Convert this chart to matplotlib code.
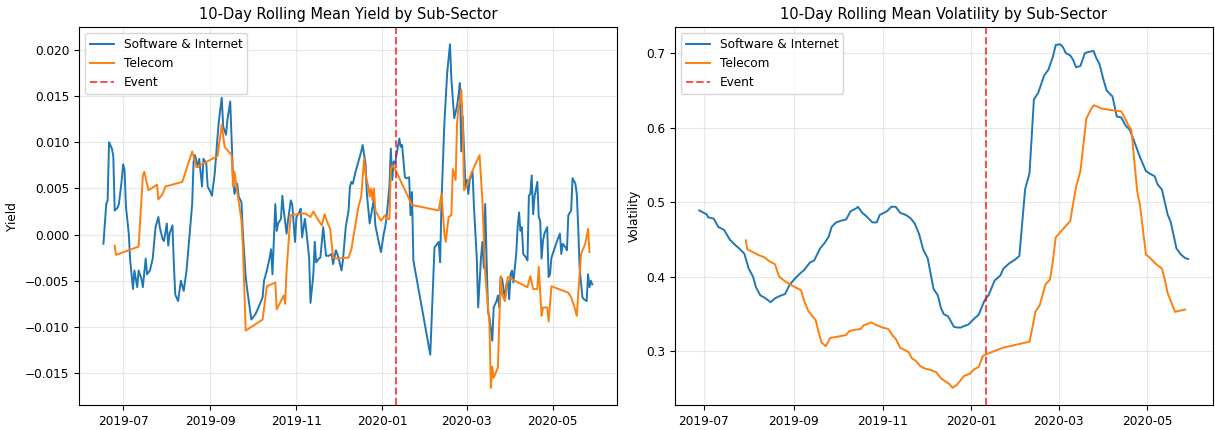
import numpy as np
import pandas as pd
import matplotlib
matplotlib.use("Agg")
import matplotlib.pyplot as plt

# ---- data (x = days since 2019-07-01) ----
base = pd.Timestamp("2019-07-01")
event_day = 194  # 2020-01-11

sw_yield_days = [-14, -12, -11, -10, -8, -7, -6, -4, -3, -1, 0, 1, 2, 4, 5, 7, 8, 10, 11, 13,
                 14, 16, 17, 19, 21, 23, 25, 26, 28, 29, 31, 32, 33, 35, 36, 37, 39, 40, 41, 43,
                 45, 47, 49, 50, 51, 53, 54, 56, 57, 59, 60, 62, 63, 65, 67, 68, 70, 71, 73, 74,
                 76, 78, 79, 81, 82, 84, 85, 87, 88, 91, 94, 96, 99, 100, 102, 104, 105, 106, 108, 109,
                 110, 112, 113, 114, 116, 117, 119, 120, 122, 123, 125, 126, 127, 129, 130, 132, 133, 135, 136, 137,
                 139, 140, 142, 143, 144, 146, 148, 149, 151, 152, 153, 155, 156, 158, 160, 161, 162, 163, 165, 167,
                 169, 170, 172, 173, 175, 177, 178, 179, 181, 183, 185, 186, 187, 189, 190, 191, 192, 193, 195, 196,
                 197, 198, 200, 201, 203, 204, 205, 206, 218, 221, 223, 224, 225, 226, 228, 230, 232, 233, 235, 237,
                 238, 239, 240, 241, 243, 244, 245, 246, 248, 249, 251, 252, 254, 255, 256, 257, 258, 259, 260, 262,
                 263, 265, 266, 267, 268, 269, 271, 272, 273, 274, 275, 276, 277, 279, 280, 281, 282, 283, 284, 286,
                 287, 288, 289, 290, 291, 292, 294, 295, 296, 297, 298, 299, 301, 302, 303, 304, 306, 308, 310, 311,
                 312, 314, 315, 316, 318, 319, 321, 322, 323, 324, 326, 327, 329, 330, 331, 332, 333]
sw_yield = [-0.0010, 0.0033, 0.0037, 0.0100, 0.0093, 0.0085, 0.0026, 0.0029, 0.0033, 0.0059,
            0.0076, 0.0070, 0.0030, 0.0001, -0.0028, -0.0059, -0.0039, -0.0057, -0.0039, -0.0048,
            -0.0057, -0.0026, -0.0043, -0.0039, -0.0026, 0.0008, 0.0019, 0.0008, -0.0005, -0.0007,
            0.0012, -0.0012, 0.0001, 0.0010, -0.0032, -0.0065, -0.0072, -0.0061, -0.0050, -0.0061,
            -0.0039, -0.0003, 0.0033, 0.0079, 0.0086, 0.0073, 0.0082, 0.0052, 0.0082, 0.0077,
            0.0052, 0.0046, 0.0042, 0.0066, 0.0106, 0.0124, 0.0148, 0.0117, 0.0108, 0.0124,
            0.0144, 0.0062, 0.0044, 0.0055, 0.0041, 0.0035, 0.0001, -0.0046, -0.0059, -0.0092,
            -0.0086, -0.0079, -0.0068, -0.0050, -0.0039, -0.0025, -0.0016, -0.0043, 0.0033, 0.0004,
            0.0012, 0.0017, 0.0042, 0.0026, 0.0001, 0.0015, 0.0037, 0.0033, -0.0008, 0.0019,
            0.0024, 0.0028, -0.0003, 0.0017, 0.0004, -0.0025, -0.0074, -0.0043, -0.0008, -0.0030,
            -0.0026, -0.0025, 0.0008, -0.0007, -0.0023, -0.0023, -0.0021, -0.0032, -0.0017, -0.0021,
            -0.0026, -0.0039, -0.0028, 0.0008, 0.0026, 0.0052, 0.0057, 0.0055, 0.0068, 0.0079,
            0.0090, 0.0097, 0.0077, 0.0044, 0.0012, 0.0030, 0.0037, 0.0010, -0.0005, -0.0019,
            0.0001, 0.0008, 0.0019, 0.0052, 0.0093, 0.0059, 0.0079, 0.0077, 0.0095, 0.0104,
            0.0095, 0.0097, 0.0062, 0.0061, 0.0062, 0.0021, 0.0046, -0.0028, -0.0130, -0.0014,
            -0.0010, -0.0008, -0.0030, 0.0037, 0.0120, 0.0175, 0.0206, 0.0168, 0.0126, 0.0139,
            0.0150, 0.0164, 0.0090, 0.0128, 0.0052, 0.0059, 0.0044, 0.0059, 0.0068, 0.0030,
            -0.0025, -0.0079, -0.0025, -0.0008, -0.0036, 0.0033, -0.0028, -0.0083, -0.0090, -0.0115,
            -0.0079, -0.0072, -0.0066, -0.0079, -0.0046, -0.0048, -0.0070, -0.0054, -0.0050, -0.0070,
            -0.0043, -0.0039, -0.0052, -0.0021, 0.0008, 0.0024, 0.0004, 0.0008, -0.0021, -0.0025,
            -0.0028, 0.0042, 0.0044, 0.0064, 0.0022, 0.0041, 0.0057, 0.0019, 0.0015, -0.0026,
            -0.0007, 0.0001, 0.0008, -0.0046, -0.0043, -0.0025, -0.0016, -0.0007, 0.0001, -0.0021,
            -0.0010, -0.0014, -0.0017, 0.0021, 0.0026, 0.0061, 0.0055, 0.0044, 0.0008, -0.0036,
            -0.0068, -0.0070, -0.0072, -0.0043, -0.0057, -0.0050, -0.0054]

tel_yield_days = [-6, -5, 11, 14, 15, 18, 24, 25, 28, 30, 42, 49, 52, 67, 70, 72, 77, 78, 79, 81,
                  84, 85, 87, 99, 102, 108, 109, 114, 115, 116, 118, 119, 129, 131, 133, 135, 138, 141, 143, 145,
                  147, 149, 152, 160, 162, 165, 167, 169, 171, 172, 174, 175, 176, 177, 178, 179, 183, 186, 187, 189,
                  190, 191, 193, 205, 224, 226, 228, 229, 231, 233, 234, 236, 237, 238, 239, 240, 241, 242, 244, 247,
                  253, 255, 257, 260, 261, 262, 263, 266, 268, 269, 271, 273, 287, 289, 291, 294, 295, 297, 298, 301,
                  302, 304, 316, 318, 320, 322, 324, 325, 328, 330, 331]
tel_yield = [-0.0012, -0.0022, -0.0013, 0.0064, 0.0068, 0.0048, 0.0054, 0.0038, 0.0044, 0.0052,
             0.0057, 0.0090, 0.0073, 0.0085, 0.0119, 0.0095, 0.0086, 0.0052, 0.0068, 0.0046,
             0.0015, -0.0014, -0.0104, -0.0092, -0.0056, -0.0052, -0.0081, -0.0066, -0.0075, -0.0039,
             0.0004, 0.0021, 0.0023, 0.0021, 0.0019, 0.0025, 0.0017, 0.0010, 0.0022, 0.0013,
             0.0006, -0.0025, -0.0026, -0.0025, -0.0016, 0.0012, 0.0030, 0.0041, 0.0082, 0.0066,
             0.0052, 0.0041, 0.0050, 0.0037, 0.0050, 0.0026, 0.0015, 0.0021, 0.0017, 0.0017,
             0.0070, 0.0075, 0.0071, 0.0032, 0.0026, 0.0044, 0.0001, -0.0008, 0.0019, 0.0021,
             0.0071, 0.0059, 0.0120, 0.0139, 0.0142, 0.0157, 0.0122, 0.0048, 0.0053, 0.0066,
             0.0086, 0.0037, -0.0043, -0.0097, -0.0166, -0.0143, -0.0155, -0.0144, -0.0045, -0.0065,
             -0.0072, -0.0046, -0.0057, -0.0045, -0.0059, -0.0059, -0.0035, -0.0088, -0.0079, -0.0079,
             -0.0094, -0.0056, -0.0063, -0.0068, -0.0077, -0.0088, -0.0043, -0.0021, -0.0010, 0.0006,
             -0.0019]

sw_vol_days = [-3, -1, 2, 3, 7, 10, 14, 18, 21, 25, 28, 31, 34, 36, 39, 42, 46, 49, 52, 56,
               59, 62, 66, 69, 73, 76, 80, 83, 86, 88, 91, 94, 98, 101, 105, 106, 109, 112, 116, 119,
               121, 124, 126, 129, 132, 135, 139, 142, 145, 148, 151, 154, 158, 161, 163, 165, 168, 172, 174, 177,
               179, 182, 186, 189, 193, 196, 200, 204, 206, 210, 214, 217, 221, 224, 227, 230, 234, 237, 240, 242,
               245, 247, 249, 252, 254, 256, 259, 262, 265, 268, 270, 272, 275, 277, 281, 284, 287, 290, 293, 297,
               300, 304, 307, 310, 312, 315, 319, 321, 325, 328, 331, 333]
sw_vol = [0.489, 0.487, 0.484, 0.480, 0.478, 0.467, 0.463, 0.450, 0.444, 0.437,
          0.431, 0.411, 0.400, 0.386, 0.375, 0.372, 0.366, 0.371, 0.374, 0.377,
          0.389, 0.396, 0.404, 0.409, 0.419, 0.422, 0.438, 0.445, 0.454, 0.467,
          0.473, 0.475, 0.477, 0.488, 0.492, 0.494, 0.486, 0.481, 0.473, 0.473,
          0.483, 0.486, 0.488, 0.494, 0.494, 0.486, 0.483, 0.479, 0.472, 0.458,
          0.436, 0.425, 0.384, 0.375, 0.359, 0.350, 0.347, 0.333, 0.332, 0.332,
          0.334, 0.336, 0.344, 0.349, 0.368, 0.376, 0.395, 0.402, 0.411, 0.418,
          0.423, 0.428, 0.518, 0.539, 0.638, 0.647, 0.670, 0.678, 0.695, 0.711,
          0.712, 0.708, 0.700, 0.697, 0.691, 0.681, 0.683, 0.700, 0.702, 0.703,
          0.693, 0.686, 0.663, 0.650, 0.642, 0.615, 0.614, 0.603, 0.597, 0.576,
          0.560, 0.542, 0.538, 0.535, 0.524, 0.517, 0.483, 0.474, 0.438, 0.430,
          0.425, 0.424]

tel_vol_days = [29, 30, 34, 38, 42, 45, 49, 52, 56, 60, 64, 67, 69, 72, 77, 79, 81, 84, 87, 93,
                98, 100, 104, 108, 110, 113, 115, 119, 123, 127, 130, 132, 135, 137, 141, 143, 146, 149, 152, 156,
                160, 163, 166, 169, 171, 174, 179, 183, 186, 189, 192, 194, 206, 224, 226, 228, 231, 233, 235, 238,
                240, 242, 252, 254, 256, 259, 263, 266, 268, 270, 273, 279, 287, 289, 292, 294, 298, 300, 304, 307,
                311, 315, 317, 319, 321, 324, 326, 331]
tel_vol = [0.449, 0.437, 0.433, 0.429, 0.426, 0.421, 0.417, 0.400, 0.394, 0.389,
           0.385, 0.382, 0.368, 0.354, 0.342, 0.326, 0.312, 0.307, 0.318, 0.320,
           0.322, 0.327, 0.329, 0.330, 0.335, 0.337, 0.339, 0.335, 0.332, 0.330,
           0.321, 0.317, 0.305, 0.303, 0.299, 0.291, 0.287, 0.280, 0.277, 0.275,
           0.272, 0.264, 0.260, 0.256, 0.251, 0.255, 0.267, 0.270, 0.276, 0.279,
           0.294, 0.296, 0.305, 0.313, 0.332, 0.353, 0.362, 0.376, 0.390, 0.396,
           0.420, 0.453, 0.475, 0.499, 0.521, 0.542, 0.612, 0.624, 0.630, 0.629,
           0.626, 0.624, 0.622, 0.615, 0.603, 0.597, 0.515, 0.495, 0.430, 0.425,
           0.417, 0.411, 0.396, 0.378, 0.368, 0.353, 0.354, 0.356]


def to_dates(days):
    return base + pd.to_timedelta(days, unit="D")


event_date = base + pd.Timedelta(days=event_day)

plt.rcParams["font.size"] = 8.7

fig, axes = plt.subplots(1, 2, figsize=(12.15, 4.3), dpi=100)

panels = [
    (axes[0], sw_yield_days, sw_yield, tel_yield_days, tel_yield,
     "10-Day Rolling Mean Yield by Sub-Sector", "Yield"),
    (axes[1], sw_vol_days, sw_vol, tel_vol_days, tel_vol,
     "10-Day Rolling Mean Volatility by Sub-Sector", "Volatility"),
]

for ax, d1, v1, d2, v2, title, ylab in panels:
    ax.plot(to_dates(d1), v1, color="#1f77b4", linewidth=1.4, label="Software & Internet")
    ax.plot(to_dates(d2), v2, color="#ff7f0e", linewidth=1.4, label="Telecom")
    ax.axvline(event_date, color="red", linestyle="--", alpha=0.7, linewidth=1.4, label="Event")
    ax.set_title(title, fontsize=10.5)
    ax.set_ylabel(ylab)
    ax.grid(alpha=0.3)
    ax.legend(loc="upper left")

plt.subplots_adjust(left=0.065, right=0.998, top=0.937, bottom=0.058, wspace=0.108)
fig.savefig("out.png", dpi=100)
